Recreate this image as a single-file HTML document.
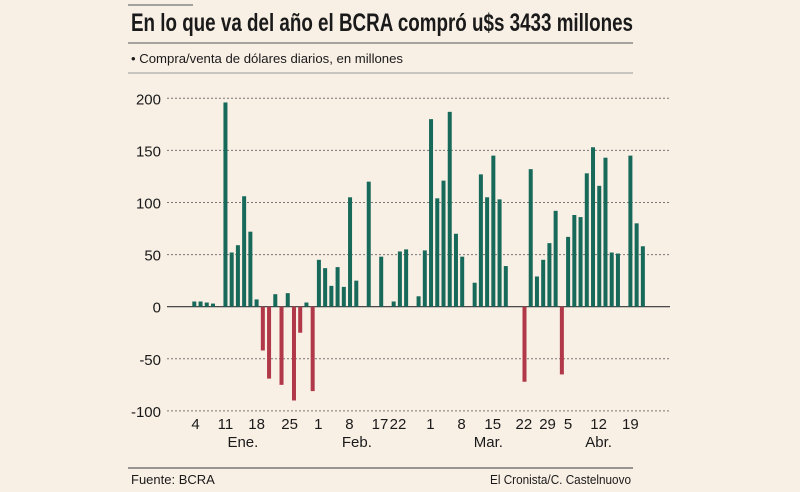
<!DOCTYPE html>
<html><head><meta charset="utf-8"><style>
html,body{margin:0;padding:0;background:#f8efe5;}
svg{display:block;font-family:"Liberation Sans",sans-serif;}
</style></head><body>
<svg width="800" height="492" viewBox="0 0 800 492" id="chart">
<rect width="800" height="492" fill="#f8efe5"/>
<line x1="128" y1="5" x2="193" y2="5" stroke="#888" stroke-width="1.5"/>
<text x="131" y="31" font-size="25" font-weight="bold" fill="#1a1a1a" textLength="502" lengthAdjust="spacingAndGlyphs">En lo que va del año el BCRA compró u$s 3433 millones</text>
<line x1="128" y1="43" x2="633" y2="43" stroke="#555" stroke-width="1"/>
<text x="131" y="63" font-size="13" fill="#1a1a1a" textLength="272" lengthAdjust="spacingAndGlyphs">• Compra/venta de dólares diarios, en millones</text>
<line x1="128" y1="73" x2="633" y2="73" stroke="#999" stroke-width="1"/>
<g id="grid"></g>
<g id="bars"></g>
<g id="xlabels"></g>
<line x1="128" y1="468" x2="633" y2="468" stroke="#777" stroke-width="1.5"/>
<text x="131" y="484" font-size="13" fill="#1a1a1a">Fuente:  BCRA</text>
<text x="631" y="484" font-size="13" fill="#1a1a1a" text-anchor="end" textLength="141" lengthAdjust="spacingAndGlyphs">El Cronista/C. Castelnuovo</text>
</svg>
<script>
const values = [5,5,4,3,null,196,52,59,106,72,7,-42,-69,12,-75,13,-90,-25,4,-81,45,37,20,38,19,105,25,null,120,null,48,null,5,53,55,null,10,54,180,104,121,187,70,48,0,23,127,105,145,103,39,null,null,-72,132,29,45,61,92,-65,67,88,86,128,153,116,143,52,51,0,145,80,58];
const yTicks = [200,150,100,50,0,-50,-100];
const dayLabels = ["4","11","18","25","1","8","17","22","1","8","15","22","29","5","12","19"];
const dayLabelSlots = [0.2,5,10,15.3,19.9,24.9,29.8,32.7,37.9,42.9,47.9,52.9,56.7,60,64.9,70];
const monthLabels = ["Ene.","Feb.","Mar.","Abr."];
const monthLabelSlots = [7.8,26.1,47.2,64.9];

const NS = "http://www.w3.org/2000/svg";
function y(v){ return 306.7 - v*1.042; }
function x(i){ return 194.3 + i*6.23; }
function mk(tag, attrs, parent){ const e=document.createElementNS(NS,tag); for(const k in attrs) e.setAttribute(k,attrs[k]); parent.appendChild(e); return e; }
const grid=document.getElementById('grid'), bars=document.getElementById('bars'), xl=document.getElementById('xlabels');
yTicks.forEach(t=>{
  const l=mk('line',{x1:167,x2:670,y1:y(t),y2:y(t),stroke:t===0?'#333':'#777','stroke-width':t===0?1.2:1,'stroke-dasharray':t===0?'none':'2 2'},grid);
  
  
  const tx=mk('text',{x:161,y:y(t)+6,'font-size':15,fill:'#1a1a1a','text-anchor':'end'},grid);
  tx.textContent=String(t);
  
  
});
values.forEach((v,i)=>{
  if(v===null||v===0) return;
  const top=Math.min(y(v),y(0)), h=Math.abs(y(v)-y(0));
  const r=mk('rect',{x:x(i)-2,y:top,width:4,height:h,fill:v>0?'#17695a':'#b03848'},bars);
  
  
});
dayLabels.forEach((d,i)=>{
  const t=mk('text',{x:x(dayLabelSlots[i]),y:429,'font-size':15,fill:'#1a1a1a','text-anchor':'middle'},xl);
  t.textContent=d;
  
  
});
monthLabels.forEach((m,i)=>{
  const t=mk('text',{x:x(monthLabelSlots[i]),y:447,'font-size':15,fill:'#1a1a1a','text-anchor':'middle'},xl);
  t.textContent=m;
  
  
});
</script>
</body></html>
